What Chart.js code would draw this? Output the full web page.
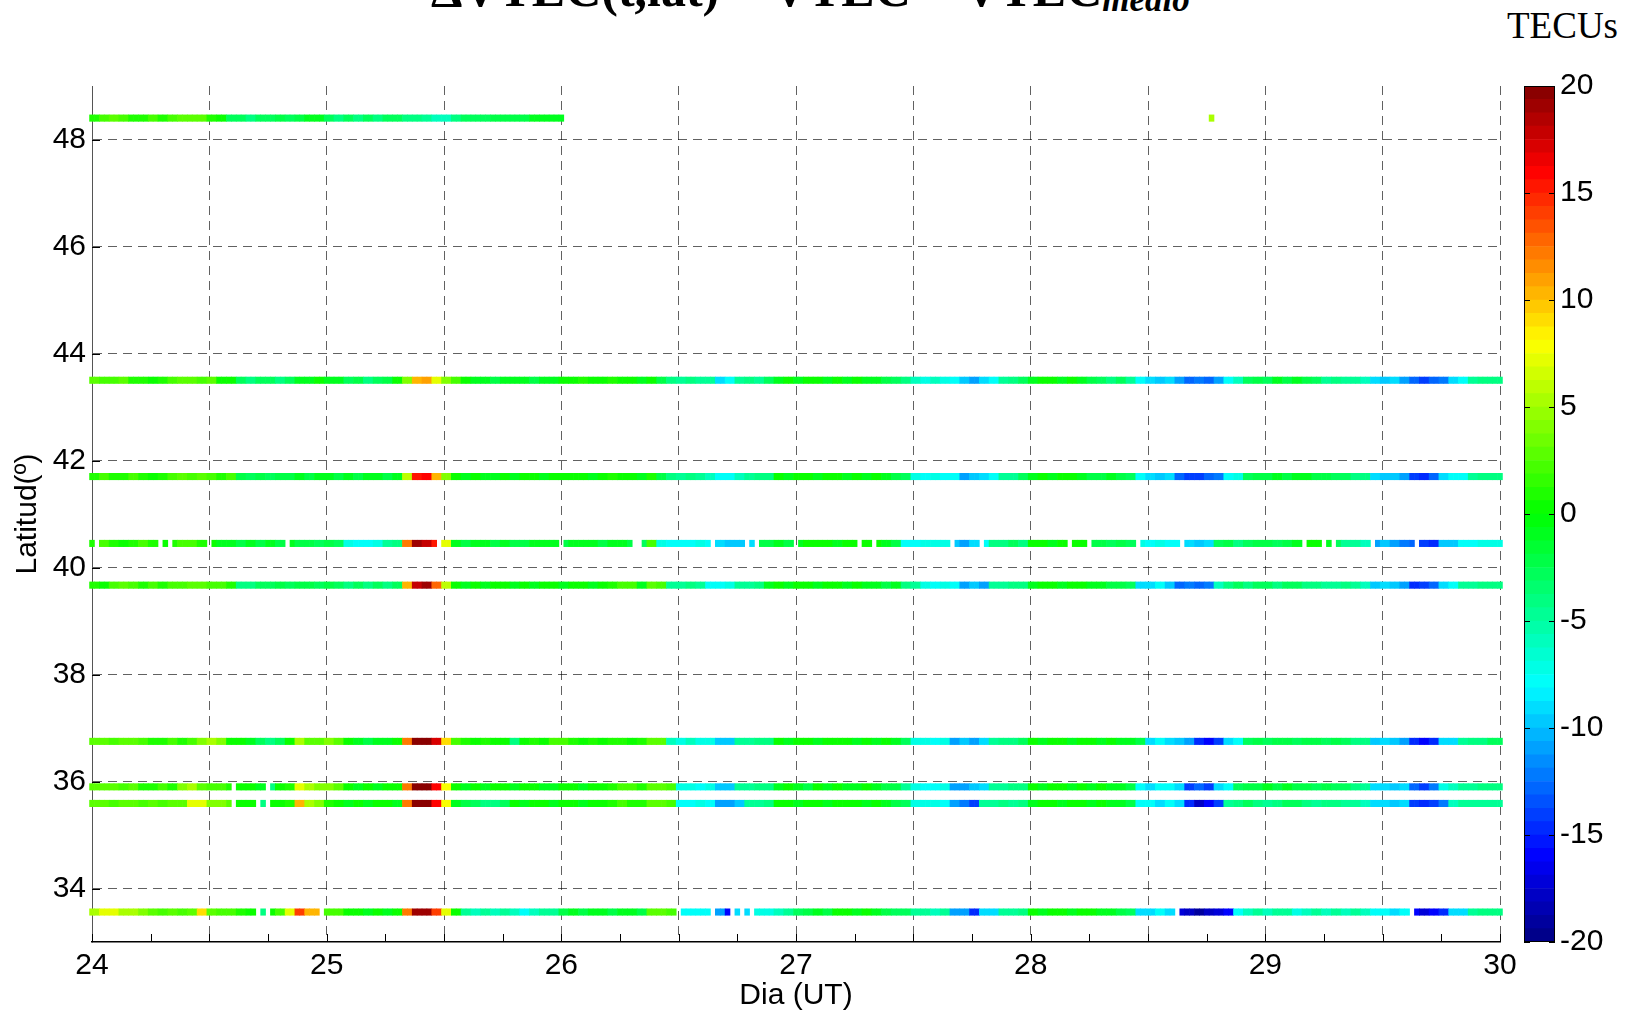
<!DOCTYPE html>
<html>
<head>
<meta charset="utf-8">
<script src="https://cdn.jsdelivr.net/npm/chart.js@4.4.1/dist/chart.umd.min.js"></script>
<style>
  html, body { margin: 0; padding: 0; background: #fff; overflow: hidden; }
  #marco { position: relative; width: 1629px; height: 1011px; overflow: hidden; background: #fff; }
  #grafico { position: absolute; left: 0; top: 0; }
  #barra { position: absolute; left: 1500px; top: 0; }
  #titulo { position: absolute; left: 431px; top: -36px; font-family: "Liberation Serif", "Times New Roman", serif;
            font-weight: bold; font-size: 50px; line-height: 50px; white-space: nowrap; color: #000; }
  #titulo sub { font-style: italic; font-size: 35px; vertical-align: -5px; line-height: 0; }
  #unidad { position: absolute; left: 1507px; top: 7px; font-family: "Liberation Serif", "Times New Roman", serif;
            font-size: 37px; line-height: 37px; color: #000; }
</style>
</head>
<body>
<div id="marco">
  <div id="titulo">ΔVTEC(t,lat) = VTEC − VTEC<sub>medio</sub></div>
  <div id="unidad">TECUs</div>
  <canvas id="grafico" width="1629" height="1011"></canvas>
  <canvas id="barra" width="129" height="1011"></canvas>
</div>
<script>
// latitudes de las estaciones (grados)
const latitudes = [48.4, 43.5, 41.7, 40.45, 39.67, 36.75, 35.9, 35.59, 33.56];

// ΔVTEC horario (TECUs), una hora por valor desde el dia 24 00h
const v484 = [1,2,3,2,1,1,2,1,2,3,3,3, 1,0, -3,-3,-4,-3,-3,-2,-3,-2,-1, -1, -3,-4,-3,-4,-3,-4,-3,-3,-4,-4,-5,-6, -6,-4,-3,-3,-3,-2,-2,-2,-2,-1,-1,-1];
const v435 = [3,2,2,3, 1,1,0,1, 2,3,3,2,3, 0,0, -3,-4,-3,-3,-4,-3, -1,-1,0,-1,-1, -3,-2,-4,-3,-2, 0, 4,10,11,7,4, 2, 0,-1,-1,-2,-1,-1,-1,-2,-1,-1,0, 0,1,0,0,1,0,0,-1, 0,-2, -4,-5,-4,-5,-5, -9,-8, -5,-4,-5,-3, -1,0,-1,0,0,-1,0,-1,0,-1,-1,-2, -3,-4, -6,-7,-6,-7,-8, -10,-11,-9, -8,-5,-4,-3, -1,0,0,-1,0,-1,-2, -3,-4,-3,-5, -8,-9,-10,-9,-11, -13,-12,-13,-11, -8,-6, -3,-2,-3,-1,-2,-1,-2,-3, -5,-4,-5,-5,-6, -9,-10,-9,-11, -13,-14,-13,-12, -9,-8, -5,-4,-4];
const v417 = [1,2,1,1,2,1,0,1, 2,3,2,3,2,1,2, -2,-3,-2,-3,-2,-2, -1,-2,-1,-1,-2,-1,-2,-1,-1,-2,-1, 6,15,16,10,4, 0,-1,0,-1,-1,0,-1,0,0,-1,0,0, 0,0,-1,0,1,0,0,-1, 1,-2, -4,-5,-4,-5,-6, -8,-8, -6,-5,-4,-4, 0,-1,0,0,-1,0,0,-1,0,-1,0,-1,-2,-3, -7,-8,-7,-8,-8, -11,-10,-9, -8,-5,-5,-3, -1,0,-1,0,0,-1,-2,-2,-1,-2,-3, -8,-9,-10,-9, -13,-14,-14,-13,-12, -8,-7, -3,-2,-2,-1,-2,-1,-1,-2,-2,-3,-3,-4,-4, -9,-10,-10,-11, -14,-15,-13, -9,-8,-8, -5,-4,-4];
const v404 = [1,2,1,0,1,2,1,0,1,2,2,1,0, -1,-1,-2,-1,-2,-1,-2, -1,-2,-2,-3,-2,-3, -7,-8,-8,-7, -5,-4, 12,19,18,15,7, -1,-2,-1,-1,-2,-1,-2,-2,-1,-1,-1,-2,-1,-1,-1,-2,-1,-1,-2,-3, 2, -7,-8,-8,-8,-7,-8, -9,-10,-10,-9, -2,-2,-1,-2,-1, 0,0,0,-1,0,0,0,0,-1,-2, -8,-8,-7,-7,-7, -10,-11, -9,-8, -4,-4,-3,-4, 0,0,-1,0,0,0, -2,-2,-3,-2,-3, -7,-8,-7,-8,-8, -9,-10,-9, -3,-2,-4,-3,-2,-2,-3,-2,-1,0, 0,-1,-3, -5,-5,-6, -11,-10,-11,-12, -13,-14,-15, -10,-10, -8,-8,-7,-7];
const v396 = [1,0,2,3,2, 1,2,1,2,2,3,3, 2,2,1, -4,-4,-3,-3, -2,-3,-2,-2,-3,-2,-3, -4,-3,-4,-3,-4,-3, 10,18,19,13,6, 0,-1,0,-1,0,0,-1,0,-1,0,0,-1,0,0,-1,0,1,2,2, -1, 3,2, -5,-5,-4,-5, -8,-8,-7, -5,-5,-4, -1,0,-1,0,0,-1,0,0,-1,0,-1,-1,-2,-1, -4,-5, -7,-8,-7,-8, -11,-10,-11, -5,-5,-4,-4, -1,0,0,-1,0,0,-1,-1,-2,-2,-3, -9,-9,-8,-10, -13,-12,-13,-12, -6,-4,-3,-4,-3,-3,-4,-3,-3,-4,-4,-5,-5,-4,-5,-6, -10,-9,-10,-11, -15,-14,-13, -9,-8, -5,-5,-4,-4];
const v367 = [3,3,2,3,3, 2,1,1,2,1,2, 4,5,4, 0,0,-1, -3,-4,-3, 0, 5, 3,3,4,3, 0,-1,-2,-1,-1,0, 12,20,20,17,9, 2,1,0,1,0,0, -4, 0,1,0,2,2,1,0,1,0,1,1,0,1, 3,3, -6,-7,-6,-7,-7, -10,-10, -5,-5,-4,-4, 0,-1,0,0,-1,0,0,0,-1,0,-1,0,-1,-3, -7,-7,-8,-7, -11,-10,-11,-9, -5,-4,-4,-3, 0,-1,0,0,-1,0,0,-1,0,-1,-1,-2, -9,-8,-9,-10, -11, -15,-16,-14, -9,-8, -3,-2,-3,-2,-2,-3,-2,-2,-3,-2,-3,-4,-4, -10,-9,-10,-11, -15,-16,-15, -9,-9, -5,-4,-4,-3];
const v359 = [3,3,3,2,3, 1,1,2,1, 4,5,3, 2,2,1, 0,0,-1, -4, 0,1, 7, 5,4,4,3, 0,-1,0,-1,0,0, 12,20,20,16,8, 0,-1,0,-1,0,0,-1,0,0,-1,-1,0,0,-1,0,0,1,2,2,1, 3,3,2, -7,-7,-8,-7, -10,-10, -5,-5,-4,-4, -1,0,-1,-2,0,-1,0,-1,-1,0,-1,-2,-2, -5,-7,-8,-8,-7, -11,-11,-10,-9, -5,-5,-4,-4, 0,-1,0,0,-1,0,-1,0,-1,-1,-2, -8,-9,-8,-8,-9, -14,-13,-14, -9,-8, -3,-2,-2,-1,-2,-1,-2,-2,-3,-2,-3,-3,-4,-5, -9,-9,-10,-9, -13,-14,-12, -7,-6,-5,-5,-4,-4];
const v356 = [3,3,2,3,3,2,3,2,3,3, 7,7, 4,4,3, 0,0, -4, 0,0,1, 10, 5,4, 1,0,-1,0,-1,0,0,-1, 12,20,20,16,8, -1,-2,-3, -4,-4,-3, 0,-1,0,0,-1,0,0,-1,0,0,1,2,1,1, 3,3,2, -8,-8,-7,-8, -11,-11,-10, -5,-5,-4, 0,0,-1,0,0,-1,0,0,0,-1,0,-1,-2,-3, -7,-7,-7,-8, -11,-12, -14, -5,-5,-4,-5,-4, -1,0,0,-1,0,0,-1,0,-1,-1,-2, -8,-8,-9,-8,-9, -15,-18,-16,-14, -5,-4,-3,-4,-5,-4,-3,-3,-4,-5,-4,-4,-5,-5,-6, -9,-9,-10,-9, -14,-15,-14,-12, -6,-5,-5,-5,-5];
const v335 = [5, 7,7, 5,5,4, 3,2,3,2,3, 9, 3,2,2,1,0, -4, 0,2,7, 14, 10,10, 2,2, 0,0,-1,0,-1,0, 12,19,19,14,7, 0, -5,-6,-5,-6,-5,-6,-8,-6,-5,-5, -2,-1,-2,-1,-1,-2,-1,-1,-2, 3,3,2, -8,-8,-8,-8, -11,-16, -9,-9, -7,-7,-6,-5, -3,-2,-1,-2,0,0,-1,0,-1,-2,-3,-3, -5,-5,-6,-5, -11,-11, -15, -9,-9, -5,-5,-4, 0,-1,0,0,-1,0,0,-1,-1,-2,-3, -9,-9,-8,-9, -17,-18,-19,-18,-17,-16, -8,-6,-5,-6,-5,-5,-7,-6,-5,-6,-5,-6,-5,-6, -8,-8,-9,-8, -16,-17,-16,-15, -9,-9, -5,-4,-4];

// muestras sin dato (indice de media hora)
const huecos404 = [1,14,16,24,40,71,96,111,112,127,134,136,144,157,160,176,182,200,204,214,223,248,252,254,262,271];
const huecos359 = [29,36];
const huecos356 = [29,34,36];
const huecos335 = [34,36,47,120,127,131,133,135,222,270];

// muestra aislada en 48.4
const soloDia = [28.78];
const soloVal = [5];

const xTicks = [24,24.25,24.5,24.75,25,25.25,25.5,25.75,26,26.25,26.5,26.75,27,27.25,27.5,27.75,28,28.25,28.5,28.75,29,29.25,29.5,29.75,30];
const yTicks = [34,36,38,40,42,44,46,48];
const cbTicks = [-20,-15,-10,-5,0,5,10,15,20];

const fuente = '"Liberation Sans", Arial, Helvetica, sans-serif';
const semiAncho = 0.06;

// mapa de color tipo jet con el verde en 0 (64 niveles)
const mapaT = [0, 0.1, 0.3, 0.5, 0.7, 0.9, 1];
const mapaRGB = [[0,0,128],[0,0,255],[0,255,255],[0,255,0],[255,255,0],[255,0,0],[128,0,0]];

function colorNivel(i) {
    const t = (i + 0.5) / 64;
    let j = 0;
    while (j < mapaT.length - 2 && t > mapaT[j + 1]) j++;
    const f = (t - mapaT[j]) / (mapaT[j + 1] - mapaT[j]);
    const c = mapaRGB[j].map((a, n) => Math.round(a + (mapaRGB[j + 1][n] - a) * f));
    return 'rgb(' + c.join(',') + ')';
}

function colorTEC(v) {
    const i = Math.max(0, Math.min(63, Math.floor((v + 20) / 40 * 64)));
    return colorNivel(i);
}

const tiras = [
    { lat: latitudes[0], vals: v484, huecos: [] },
    { lat: latitudes[1], vals: v435, huecos: [] },
    { lat: latitudes[2], vals: v417, huecos: [] },
    { lat: latitudes[3], vals: v404, huecos: huecos404 },
    { lat: latitudes[4], vals: v396, huecos: [] },
    { lat: latitudes[5], vals: v367, huecos: [] },
    { lat: latitudes[6], vals: v359, huecos: huecos359 },
    { lat: latitudes[7], vals: v356, huecos: huecos356 },
    { lat: latitudes[8], vals: v335, huecos: huecos335 }
];

function celdas(tira) {
    const puntos = [];
    const n = tira.vals.length;
    for (let k = 0; k <= 2 * n; k++) {
        if (tira.huecos.includes(k)) continue;
        const v = tira.vals[Math.min(n - 1, k >> 1)];
        puntos.push({ x: 24 + k / 48, y: [tira.lat - semiAncho, tira.lat + semiAncho], v: v });
    }
    return puntos;
}

const datasets = tiras.map(tira => {
    const puntos = celdas(tira);
    if (tira.lat === 48.4) {
        soloDia.forEach((d, i) => {
            const k = Math.round((d - 24) * 48);
            puntos.push({ x: 24 + k / 48, y: [tira.lat - semiAncho, tira.lat + semiAncho], v: soloVal[i] });
        });
    }
    return {
        data: puntos,
        backgroundColor: puntos.map(p => colorTEC(p.v)),
        borderWidth: 0,
        barPercentage: 1,
        categoryPercentage: 1,
        grouped: false,
        clip: 5
    };
});

// marcas de escala hacia dentro, como en matlab
const ticksInternos = {
    id: 'ticksInternos',
    afterDraw(chart) {
        const { ctx, chartArea: a, scales: { x, y } } = chart;
        ctx.save();
        ctx.strokeStyle = '#000';
        ctx.lineWidth = 1;
        x.ticks.forEach(t => {
            const px = Math.round(x.getPixelForValue(t.value)) + 0.5;
            ctx.beginPath();
            ctx.moveTo(px, a.bottom);
            ctx.lineTo(px, a.bottom - 8);
            ctx.stroke();
        });
        y.ticks.forEach(t => {
            const py = Math.round(y.getPixelForValue(t.value)) + 0.5;
            ctx.beginPath();
            ctx.moveTo(a.left, py);
            ctx.lineTo(a.left + 8, py);
            ctx.stroke();
        });
        ctx.restore();
    }
};

const rejilla = 'rgba(0,0,0,0.62)';

new Chart(document.getElementById('grafico'), {
    type: 'bar',
    data: { datasets: datasets },
    options: {
        responsive: false,
        animation: false,
        events: [],
        layout: { padding: { top: 86, right: 129, left: 0, bottom: 0 } },
        plugins: { legend: { display: false }, tooltip: { enabled: false } },
        scales: {
            x: {
                type: 'linear',
                min: 24,
                max: 30,
                offset: false,
                grid: {
                    offset: false,
                    drawTicks: false,
                    lineWidth: 1,
                    color: ctx => (ctx.tick && (ctx.tick.value * 2) % 1 === 0) ? rejilla : 'rgba(0,0,0,0)'
                },
                border: { display: true, color: '#000', width: 1.5, dash: [9, 6] },
                ticks: {
                    autoSkip: false,
                    maxRotation: 0,
                    padding: 6,
                    color: '#000',
                    font: { family: fuente, size: 30 },
                    callback: v => Number.isInteger(v) ? String(v) : ''
                },
                title: { display: true, text: 'Dia (UT)', color: '#000', font: { family: fuente, size: 30, lineHeight: 1 }, padding: { top: 0, bottom: 0 } },
                afterBuildTicks: s => { s.ticks = xTicks.map(v => ({ value: v })); },
                afterFit: s => { s.height = 69; }
            },
            y: {
                type: 'linear',
                min: 33,
                max: 49,
                beginAtZero: false,
                grid: { drawTicks: false, lineWidth: 1, color: rejilla },
                border: { display: true, color: '#555', width: 1, dash: [9, 6] },
                ticks: { padding: 6, color: '#000', font: { family: fuente, size: 30 } },
                title: { display: true, text: 'Latitud(º)', color: '#000', font: { family: fuente, size: 30 }, padding: { top: 10, bottom: 0 } },
                afterBuildTicks: s => { s.ticks = yTicks.map(v => ({ value: v })); },
                afterFit: s => { s.width = 92; }
            }
        }
    },
    plugins: [ticksInternos]
});

// barra de color
const niveles = [];
for (let i = 0; i < 64; i++) niveles.push(i);

const marcoBarra = {
    id: 'marcoBarra',
    afterDraw(chart) {
        const { ctx, chartArea: a, scales: { y } } = chart;
        ctx.save();
        ctx.strokeStyle = '#000';
        ctx.lineWidth = 1;
        ctx.strokeRect(Math.round(a.left) + 0.5, Math.round(a.top) + 0.5, Math.round(a.right - a.left) - 1, Math.round(a.bottom - a.top) - 1);
        y.ticks.forEach(t => {
            const py = Math.round(y.getPixelForValue(t.value)) + 0.5;
            ctx.beginPath();
            ctx.moveTo(a.left, py); ctx.lineTo(a.left + 6, py);
            ctx.moveTo(a.right, py); ctx.lineTo(a.right - 6, py);
            ctx.stroke();
        });
        ctx.restore();
    }
};

new Chart(document.getElementById('barra'), {
    type: 'bar',
    data: {
        labels: [''],
        datasets: niveles.map(i => ({
            data: [[-20 + i * 40 / 64, -20 + (i + 1) * 40 / 64]],
            backgroundColor: colorNivel(i),
            borderWidth: 0,
            barPercentage: 1,
            categoryPercentage: 1,
            grouped: false
        }))
    },
    options: {
        responsive: false,
        animation: false,
        events: [],
        layout: { padding: { left: 24, top: 86, bottom: 69, right: 0 } },
        plugins: { legend: { display: false }, tooltip: { enabled: false } },
        scales: {
            x: { display: false },
            y: {
                position: 'right',
                min: -20,
                max: 20,
                beginAtZero: false,
                grid: { display: false, drawTicks: false },
                border: { display: false },
                ticks: { padding: 5, color: '#000', font: { family: fuente, size: 30 } },
                afterBuildTicks: s => { s.ticks = cbTicks.map(v => ({ value: v })); },
                afterFit: s => { s.width = 74; }
            }
        }
    },
    plugins: [marcoBarra]
});
</script>
</body>
</html>
